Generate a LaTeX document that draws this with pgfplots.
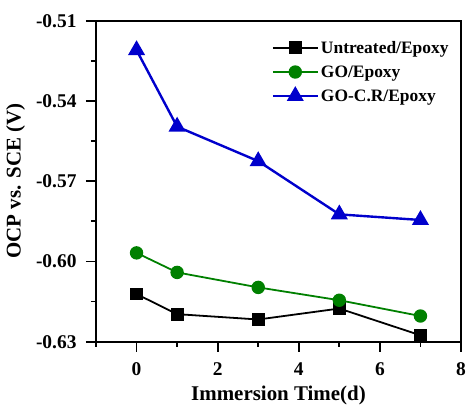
\documentclass[border=0pt]{standalone}
\usepackage{pgfplots}
\pgfplotsset{compat=1.18}
\usepackage{fontspec}
\setmainfont{Liberation Serif}
\definecolor{myblue}{RGB}{0,0,204}
\definecolor{mygreen}{RGB}{0,128,0}
\begin{document}
\begin{tikzpicture}
\useasboundingbox (0,0) rectangle (466bp,408bp);
\begin{axis}[
  at={(96bp,66.3bp)}, anchor=south west,
  scale only axis, width=365bp, height=321bp,
  xmin=-1, xmax=8, ymin=-0.63, ymax=-0.51,
  xtick={0,2,4,6,8}, minor xtick={-1,1,3,5,7},
  ytick={-0.63,-0.60,-0.57,-0.54,-0.51},
  minor ytick={-0.615,-0.585,-0.555,-0.525},
  xtick pos=bottom, ytick pos=left,
  tick align=outside,
  major tick length=10bp, minor tick length=5bp,
  every tick/.style={line width=1.8pt, black},
  axis line style={line width=1.8pt},
  yticklabel style={/pgf/number format/fixed, /pgf/number format/fixed zerofill, /pgf/number format/precision=2, xshift=-6bp},
  /pgf/number format/assume math mode=true,
  ticklabel style={font=\bfseries\fontsize{19.5}{22}\selectfont},
  xticklabel style={yshift=-7bp},
  xlabel={Immersion Time(d)},
  ylabel={OCP vs. SCE (V)},
  label style={font=\bfseries\fontsize{21}{24}\selectfont},
  xlabel style={yshift=-4bp},
  ylabel style={yshift=4bp},
  legend style={draw=none, fill=none, at={(0.98,0.95)}, anchor=north east,
    font=\bfseries\fontsize{17.5}{20}\selectfont, row sep=7bp},
  legend cell align=left,
  legend image code/.code={\draw[mark repeat=2,mark phase=2] plot coordinates {(0bp,0bp)(22.5bp,0bp)(45bp,0bp)};},
]
\addplot[black, line width=1.8pt, mark=square*, mark size=5.5bp, mark options={solid}]
  coordinates {(0,-0.6122) (1,-0.6197) (3,-0.6217) (5,-0.6176) (7,-0.6276)};
\addlegendentry{Untreated/Epoxy}
\addplot[mygreen, line width=1.8pt, mark=*, mark size=5.8bp]
  coordinates {(0,-0.5968) (1,-0.6041) (3,-0.6097) (5,-0.6145) (7,-0.6204)};
\addlegendentry{GO/Epoxy}
\addplot[myblue, line width=2.4pt, mark=triangle*, mark size=7.5bp]
  coordinates {(0,-0.5210) (1,-0.5496) (3,-0.5625) (5,-0.5824) (7,-0.5845)};
\addlegendentry{GO-C.R/Epoxy}
\end{axis}
\end{tikzpicture}
\end{document}
